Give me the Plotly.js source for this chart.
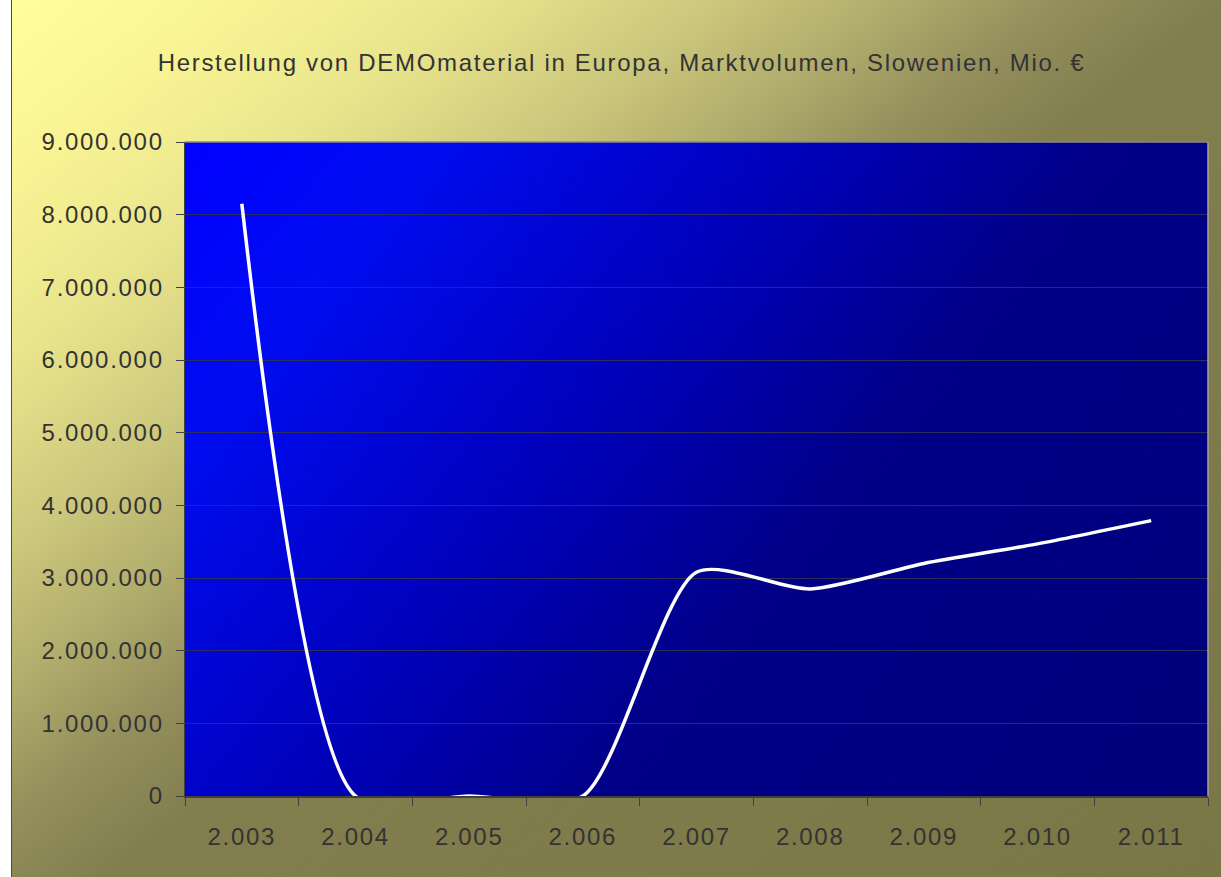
<!DOCTYPE html>
<html>
<head>
<meta charset="utf-8">
<script src="https://cdn.plot.ly/plotly-3.0.1.min.js"></script>
<style>
  html, body { margin:0; padding:0; background:#ffffff; width:1221px; height:877px; overflow:hidden; }
  #paperbg { position:absolute; left:11px; top:0; width:1210px; height:877px; box-sizing:border-box;
    border-left:1.5px solid #4a4a4a;
    background: linear-gradient(142deg, #ffff9c 0%, #f8f494 10%, #e8e48c 20%, #ccc87c 30%, #b0ac6c 38%, #948f5c 45%, #827e4e 52%, #7a7646 100%); }
  #plotbg { position:absolute; left:185px; top:142px; width:1023px; height:654px;
    background: linear-gradient(128deg, #0000ff 0%, #000cf0 16%, #0004cc 32%, #0000ac 46%, #000088 60%, #00007a 100%); }
  #chart { position:absolute; left:0; top:0; width:1221px; height:877px; }
  #chart .ytick text, #chart .xtick text, #chart .gtitle { letter-spacing: 1.7px; }
</style>
</head>
<body>
<div id="paperbg"></div>
<div id="plotbg"></div>
<div id="chart"></div>
<script>
const categories = ["2.003", "2.004", "2.005", "2.006", "2.007", "2.008", "2.009", "2.010", "2.011"];
const marketVolume = [8150000, 0, 0, 0, 3080000, 2850000, 3200000, 3470000, 3790000];
const yTickValues = [0, 1000000, 2000000, 3000000, 4000000, 5000000, 6000000, 7000000, 8000000, 9000000];
const chartTitle = "Herstellung von DEMOmaterial in Europa, Marktvolumen, Slowenien, Mio. €";

const trace = {
  x: categories,
  y: marketVolume,
  type: "scatter",
  mode: "lines",
  line: { color: "#ffffff", width: 3.5, shape: "spline", smoothing: 0.7 },
  hoverinfo: "skip"
};

const layout = {
  width: 1221,
  height: 877,
  margin: { l: 185, r: 13, t: 142, b: 81, pad: 0 },
  paper_bgcolor: "rgba(0,0,0,0)",
  plot_bgcolor: "rgba(0,0,0,0)",
  separators: ",.",
  showlegend: false,
  font: { family: "Liberation Sans, Arial, sans-serif", color: "#333333" },
  title: {
    text: chartTitle,
    font: { family: "Liberation Sans, Arial, sans-serif", size: 24, color: "#333333" },
    x: 0.509, xref: "container", xanchor: "center",
    y: 0.929, yref: "container", yanchor: "middle"
  },
  xaxis: {
    type: "category",
    tickvals: categories,
    ticktext: categories,
    tickson: "boundaries",
    ticks: "outside",
    ticklen: 8,
    tickcolor: "#404040",
    tickwidth: 1,
    showgrid: false,
    showline: true,
    linecolor: "#404040",
    linewidth: 1.5,
    zeroline: false,
    tickfont: { size: 24, color: "#333333" },
    ticklabelstandoff: 19,
    range: [-0.5, 8.5],
    fixedrange: true
  },
  yaxis: {
    range: [0, 9000000],
    tickvals: yTickValues,
    tickformat: ",d",
    ticks: "outside",
    ticklen: 8,
    tickcolor: "#404040",
    tickwidth: 1,
    showgrid: true,
    gridcolor: "#2e2e5c",
    gridwidth: 1,
    showline: true,
    linecolor: "#404040",
    linewidth: 1.5,
    zeroline: false,
    tickfont: { size: 24, color: "#333333" },
    ticklabelstandoff: 7,
    fixedrange: true
  },
  shapes: [
    { type: "line", xref: "paper", yref: "paper", x0: 0, x1: 1, y0: 1, y1: 1, line: { color: "#8a8a8a", width: 1.5 } },
    { type: "line", xref: "paper", yref: "paper", x0: 1, x1: 1, y0: 0, y1: 1, line: { color: "#a0a0a0", width: 1.5 } }
  ]
};

Plotly.newPlot("chart", [trace], layout, { staticPlot: true, displayModeBar: false });
</script>
</body>
</html>
